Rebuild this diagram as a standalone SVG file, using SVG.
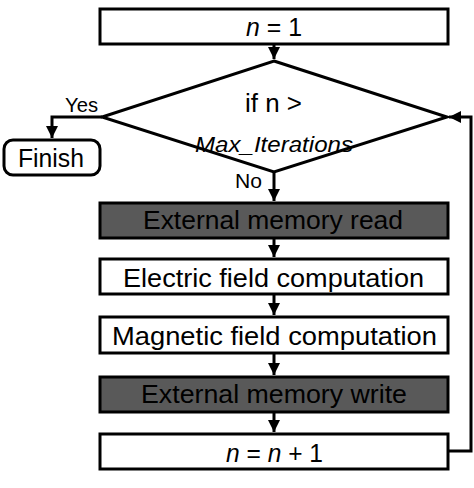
<svg xmlns="http://www.w3.org/2000/svg" width="474" height="488" viewBox="0 0 474 488">
<style>
.box{fill:#fff;stroke:#000;stroke-width:3}
.dark{fill:#595959;stroke:#000;stroke-width:3}
.t{font-family:"Liberation Sans",Arial,sans-serif;fill:#000}
.c{fill:none;stroke:#000;stroke-width:3}
</style>
<defs>
<marker id="ah" markerWidth="4" markerHeight="4" refX="4" refY="2" orient="auto" markerUnits="strokeWidth">
<path d="M0,0 L4,2 L0,4 Z" fill="#000"/>
</marker>
</defs>
<rect width="474" height="488" fill="#fff"/>
<g id="connectors">
<path class="c" d="M274,44 V59" marker-end="url(#ah)"/>
<path class="c" d="M102,117 H52 V138" marker-end="url(#ah)"/>
<path class="c" d="M274,172 V201" marker-end="url(#ah)"/>
<path class="c" d="M274,238 V257" marker-end="url(#ah)"/>
<path class="c" d="M274,294 V315" marker-end="url(#ah)"/>
<path class="c" d="M274,353 V375" marker-end="url(#ah)"/>
<path class="c" d="M274,412 V432" marker-end="url(#ah)"/>
<path class="c" d="M448,451 H471 V117 H449" marker-end="url(#ah)"/>
<text class="t" font-size="21" x="65" y="112" textLength="33" lengthAdjust="spacingAndGlyphs">Yes</text>
<text class="t" font-size="21" x="235" y="188" textLength="27" lengthAdjust="spacingAndGlyphs">No</text>
</g>
<g id="init">
<rect class="box" x="100" y="9" width="348" height="35"/>
<text class="t" font-size="25" x="246" y="36" textLength="56" lengthAdjust="spacingAndGlyphs"><tspan font-style="italic">n</tspan> = 1</text>
</g>
<g id="decision">
<polygon class="box" points="274,61 447,117 274,172 102,117"/>
<text class="t" font-size="25" x="245" y="112" textLength="57" lengthAdjust="spacingAndGlyphs">if n &gt;</text>
<text class="t" font-size="22" x="195" y="152" font-style="italic" textLength="158" lengthAdjust="spacingAndGlyphs">Max_Iterations</text>
</g>
<g id="finish">
<rect class="box" x="4" y="140" width="96" height="35" rx="9"/>
<text class="t" font-size="25" x="18" y="167" textLength="66" lengthAdjust="spacingAndGlyphs">Finish</text>
</g>
<g id="read">
<rect class="dark" x="100" y="203" width="348" height="35"/>
<text class="t" font-size="25" x="143" y="229" textLength="260" lengthAdjust="spacingAndGlyphs">External memory read</text>
</g>
<g id="electric">
<rect class="box" x="100" y="259" width="348" height="35"/>
<text class="t" font-size="25" x="123" y="287" textLength="301" lengthAdjust="spacingAndGlyphs">Electric field computation</text>
</g>
<g id="magnetic">
<rect class="box" x="100" y="317" width="348" height="36"/>
<text class="t" font-size="25" x="112" y="345" textLength="325" lengthAdjust="spacingAndGlyphs">Magnetic field computation</text>
</g>
<g id="write">
<rect class="dark" x="100" y="377" width="348" height="35"/>
<text class="t" font-size="25" x="141" y="403" textLength="266" lengthAdjust="spacingAndGlyphs">External memory write</text>
</g>
<g id="increment">
<rect class="box" x="100" y="434" width="348" height="35"/>
<text class="t" font-size="25" x="226" y="462" textLength="97" lengthAdjust="spacingAndGlyphs"><tspan font-style="italic">n</tspan> = <tspan font-style="italic">n</tspan> + 1</text>
</g>
</svg>
